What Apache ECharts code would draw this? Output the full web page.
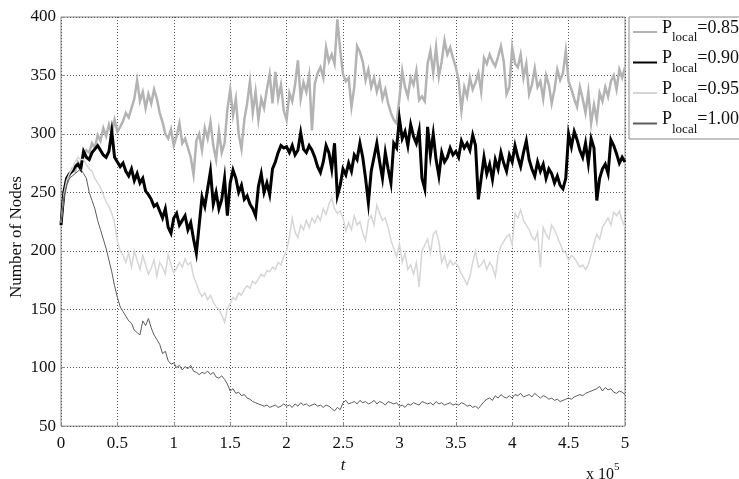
<!DOCTYPE html>
<html>
<head>
<meta charset="utf-8">
<script src="https://cdn.jsdelivr.net/npm/echarts@6/dist/echarts.min.js"></script>
<style>
  html, body { margin: 0; padding: 0; background: #fff; }
  #chart { width: 739px; height: 479px; }
</style>
</head>
<body>
<div id="chart"></div>
<script>
// Sampling interval of the simulation output (time steps between samples)
const STEP = 2500;

// Axis ticks (x is shown in units of 10^5)
const xTicks = [0, 0.5, 1, 1.5, 2, 2.5, 3, 3.5, 4, 4.5, 5];
const yTicks = [50, 100, 150, 200, 250, 300, 350, 400];

// Legend labels (probability of local attachment)
const pLocal = ['0.85', '0.90', '0.95', '1.00'];

// Number of nodes over time, one array per P_local value
const nodes085 = [
  224, 245, 258, 264, 270, 268, 276, 272, 281, 286,
  284, 292, 288, 299, 294, 305, 298, 308, 300, 312,
  302, 306, 311, 318, 314, 322, 330, 346, 328, 336,
  322, 334, 326, 338, 330, 318, 310, 300, 296, 304,
  290, 298, 309, 292, 296, 288, 280, 265, 294, 300,
  286, 305, 296, 310, 290, 278, 302, 284, 292, 321,
  338, 316, 330, 300, 287, 312, 326, 345, 318, 336,
  312, 330, 322, 338, 351, 326, 353, 330, 342, 320,
  312, 335, 328, 342, 363, 330, 344, 336, 350, 303,
  343, 352, 357, 348, 374, 362, 368, 360, 398, 372,
  351, 345, 348, 323, 340, 375, 370, 362, 346, 355,
  340, 348, 336, 345, 330, 338, 326, 318, 312, 309,
  330, 354, 340, 332, 348, 342, 354, 329, 332, 328,
  360, 371, 352, 374, 349, 362, 380, 368, 374, 365,
  357, 346, 320, 340, 332, 348, 338, 344, 352, 336,
  365, 360, 368, 362, 358, 366, 375, 362, 334, 340,
  374, 360, 357, 368, 348, 360, 334, 342, 356, 340,
  345, 330, 350, 342, 326, 338, 355, 346, 352, 371,
  345, 338, 330, 323, 340, 330, 318, 336, 309, 325,
  312, 335, 328, 340, 332, 345, 350, 338, 355, 348,
  357
];
const nodes090 = [
  222, 250, 262, 266, 268, 272, 274, 270, 285, 280,
  278, 284, 287, 290, 286, 282, 280, 285, 302, 280,
  276, 272, 275, 268, 264, 270, 260, 266, 258, 262,
  251, 248, 244, 238, 240, 234, 228, 236, 220, 215,
  228, 232, 222, 226, 230, 218, 224, 210, 198, 222,
  246, 238, 253, 268, 240, 250, 236, 244, 262, 230,
  258, 269, 262, 250, 256, 244, 247, 240, 236, 230,
  255, 266, 250, 258, 248, 270, 276, 284, 290, 288,
  289, 284, 290, 282, 286, 301, 287, 284, 290, 286,
  280, 272, 267, 276, 290, 284, 270, 292, 247, 256,
  270, 265, 275, 268, 282, 278, 292, 280, 262, 241,
  268, 280, 292, 276, 262, 284, 270, 258, 292, 288,
  313, 296, 302, 290, 308, 298, 292, 303, 262, 253,
  306, 282, 300, 278, 264, 284, 276, 280, 288, 282,
  285, 280, 294, 288, 292, 286, 299, 290, 244, 262,
  280, 266, 274, 261, 278, 270, 284, 275, 268, 282,
  276, 290, 280, 272, 284, 294, 278, 270, 264, 276,
  268, 274, 262, 270, 266, 258, 264, 256, 253, 262,
  300, 289, 302, 295, 286, 280, 292, 275, 296, 288,
  243, 262, 270, 274, 266, 295, 290, 283, 275, 280,
  276
];
const nodes095 = [
  224, 248, 260, 266, 270, 276, 280, 278, 278, 274,
  270, 268, 262, 258, 254, 248, 242, 238, 232, 224,
  208, 200, 196, 190, 198, 186, 200, 192, 184, 196,
  188, 180, 185, 192, 178, 190, 186, 180, 197, 188,
  181, 185, 190, 186, 193, 188, 190, 178, 172, 165,
  161, 164, 158, 162, 156, 152, 150, 145, 139, 150,
  155, 160, 158, 164, 162, 167, 170, 168, 174, 172,
  176, 180, 178, 183, 182, 186, 184, 190, 188, 195,
  200, 212, 228, 216, 211, 222, 218, 226, 220, 228,
  224, 230, 226, 236, 231, 240, 245, 236, 232, 234,
  228, 217, 224, 218, 230, 222, 225, 215, 209, 226,
  230, 222, 239, 232, 226, 228, 220, 209, 202, 195,
  206, 190, 198, 184, 188, 180, 190, 169, 200, 205,
  210, 198, 214, 217, 208, 190, 196, 186, 192, 188,
  190, 186, 180, 176, 171, 178, 190, 200, 186, 188,
  192, 184, 190, 186, 178, 196, 204, 208, 212, 214,
  205, 232, 228, 235, 226, 222, 218, 212, 209, 216,
  186, 220, 214, 210, 222, 218, 212, 206, 200, 198,
  192, 196, 194, 190, 186, 188, 184, 188, 197, 206,
  214, 210, 220, 224, 228, 222, 233, 230, 234, 226,
  220
];
const nodes100 = [
  224, 246, 256, 262, 264, 266, 268, 270, 266, 262,
  250, 243, 236, 226, 218, 210, 202, 192, 182, 170,
  160, 152, 148, 144, 140, 138, 132, 130, 128, 140,
  136, 142, 134, 128, 124, 120, 112, 114, 106, 103,
  104, 100, 102, 98, 101, 99, 102, 97, 96, 94,
  96, 95, 97, 94, 96, 92, 91, 93, 90, 86,
  80, 82, 78, 79, 76, 77, 74, 73, 71, 70,
  69, 68, 67, 68, 66, 67, 68, 66, 67, 69,
  67, 68, 66, 69, 67, 70, 68, 69, 67, 68,
  69, 67, 68, 66, 68, 67, 65, 63, 66, 64,
  70, 72, 69, 70, 71, 69, 72, 70, 71, 69,
  70, 72, 69, 71, 70, 68, 71, 70, 69, 70,
  67, 68, 66, 69, 68, 70, 69, 68, 71, 70,
  69, 70, 68, 71, 69, 70, 68, 69, 70, 68,
  69, 68, 70, 69, 67, 68, 66, 67, 65, 68,
  71, 73, 74, 72, 76, 74, 77, 75, 74, 76,
  74, 77, 76, 78, 75, 76, 77, 75, 78, 76,
  74, 76, 75, 73, 74, 72, 73, 71, 72, 73,
  74, 73, 75, 76, 77, 76, 78, 79, 80, 81,
  82, 84, 80, 83, 81, 82, 79, 78, 80, 79,
  77
];

const SERIF = '"Liberation Serif", "DejaVu Serif", serif';
const seriesValues = [nodes085, nodes090, nodes095, nodes100];
const seriesColors = ['#b3b3b3', '#000000', '#d6d6d6', '#5c5c5c'];
const seriesWidths = [2.5, 3, 1.5, 1];

const toPairs = vals => vals.map((v, i) => [i * STEP, v]);

const chart = echarts.init(document.getElementById('chart'), null, { renderer: 'canvas' });

chart.setOption({
  animation: false,
  backgroundColor: '#ffffff',
  grid: {
    left: 61, right: 114, top: 17, bottom: 48,
    show: true, borderColor: '#8a8a8a', borderWidth: 1, backgroundColor: 'transparent'
  },
  xAxis: {
    type: 'value',
    min: xTicks[0] * 1e5,
    max: xTicks[xTicks.length - 1] * 1e5,
    interval: 0.5e5,
    name: 't',
    nameLocation: 'middle',
    nameGap: 22,
    nameTextStyle: { fontFamily: SERIF, fontSize: 17, fontStyle: 'italic', color: '#111' },
    axisLine: { show: false },
    axisTick: { show: true, inside: true, length: 4, lineStyle: { color: '#8a8a8a' } },
    axisLabel: {
      fontFamily: SERIF, fontSize: 17, color: '#111', margin: 9,
      formatter: v => String(+(v / 1e5).toFixed(1))
    },
    splitLine: { show: true, lineStyle: { color: '#555', type: [1, 2], width: 1 } }
  },
  yAxis: {
    type: 'value',
    min: yTicks[0],
    max: yTicks[yTicks.length - 1],
    interval: 50,
    axisLine: { show: false },
    axisTick: { show: true, inside: true, length: 4, lineStyle: { color: '#8a8a8a' } },
    axisLabel: { fontFamily: SERIF, fontSize: 17, color: '#111', margin: 5 },
    splitLine: { show: true, lineStyle: { color: '#555', type: [1, 2], width: 1 } }
  },
  legend: {
    orient: 'vertical',
    left: 629,
    top: 17,
    padding: [2, 8, 3, 4],
    itemGap: 5,
    itemWidth: 24,
    itemHeight: 2,
    icon: 'rect',
    borderColor: '#8a8a8a',
    borderWidth: 1,
    backgroundColor: '#fff',
    data: pLocal.map(p => 'P_local=' + p),
    formatter: name => '{p|P}{s|local}{p|=' + name.split('=')[1] + '}',
    textStyle: {
      rich: {
        p: { fontFamily: SERIF, fontSize: 18, color: '#111', padding: [0, 0, 8, 0] },
        s: { fontFamily: SERIF, fontSize: 13, color: '#111', padding: [12, 0, 0, 0] }
      }
    }
  },
  graphic: [
    {
      type: 'text',
      x: 17, y: 237,
      rotation: Math.PI / 2,
      style: {
        text: 'Number of Nodes',
        font: '17px ' + SERIF,
        fill: '#111',
        align: 'center',
        verticalAlign: 'middle'
      }
    },
    {
      type: 'text',
      left: 586, top: 462,
      style: {
        text: '{a|x 10}{b|5}',
        rich: {
          a: { fontFamily: SERIF, fontSize: 16, fill: '#111', padding: [6, 0, 0, 0] },
          b: { fontFamily: SERIF, fontSize: 11, fill: '#111', padding: [0, 0, 8, 0] }
        }
      }
    }
  ],
  series: seriesValues.map((vals, k) => ({
    name: 'P_local=' + pLocal[k],
    type: 'line',
    data: toPairs(vals),
    symbol: 'none',
    showSymbol: false,
    lineStyle: { color: seriesColors[k], width: seriesWidths[k], join: 'miter' },
    itemStyle: { color: seriesColors[k] },
    z: 2 + k
  }))
});
</script>
</body>
</html>
